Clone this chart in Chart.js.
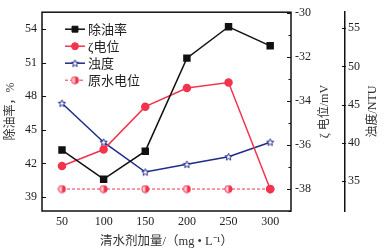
<!DOCTYPE html>
<html>
<head>
<meta charset="utf-8">
<script src="https://cdn.jsdelivr.net/npm/chart.js@4.4.0/dist/chart.umd.min.js"></script>
<style>
  html, body { margin: 0; padding: 0; background: #fff; }
</style>
</head>
<body>
<canvas id="chart" width="391" height="251"></canvas>
<script>
var doses = [50, 100, 150, 200, 250, 300];
var oilRemoval = [43.2, 40.6, 43.1, 51.4, 54.2, 52.5];
var zetaPotential = [-36.95, -36.2, -34.25, -33.4, -33.15, -38.0];
var turbidity = [45.2, 40.1, 36.2, 37.2, 38.2, 40.1];
var rawZeta = [-38, -38, -38, -38, -38, -38];

var xTicks = [50, 100, 150, 200, 250, 300];
var oilTicks = [39, 42, 45, 48, 51, 54];
var zetaTicks = [-38, -36, -34, -32, -30];
var zetaMinor = [-39, -37, -35, -33, -31];
var ntuTicks = [35, 40, 45, 50, 55];

var FONT = "'Liberation Serif', 'Noto Sans CJK SC', serif";
var BLACK = '#111';
var RED = '#f2344f';
var BLUE = '#1f2a8a';

// small marker images
function starMarker() {
    var c = document.createElement('canvas');
    c.width = 9; c.height = 9;
    var g = c.getContext('2d');
    g.beginPath();
    for (var i = 0; i < 10; i++) {
        var r = i % 2 === 0 ? 3.8 : 1.6;
        var a = -Math.PI / 2 + i * Math.PI / 5;
        var px = 4.5 + r * Math.cos(a), py = 4.8 + r * Math.sin(a);
        if (i === 0) g.moveTo(px, py); else g.lineTo(px, py);
    }
    g.closePath();
    g.fillStyle = '#fff';
    g.fill();
    g.strokeStyle = BLUE;
    g.lineWidth = 1;
    g.stroke();
    return c;
}
function halfCircle() {
    var c = document.createElement('canvas');
    c.width = 9; c.height = 9;
    var g = c.getContext('2d');
    g.beginPath(); g.arc(4.5, 4.5, 3.6, 0, Math.PI * 2);
    g.fillStyle = '#fbd0d6'; g.fill();
    g.beginPath(); g.arc(4.5, 4.5, 3.6, -Math.PI / 2, Math.PI / 2);
    g.fillStyle = RED; g.fill();
    g.beginPath(); g.arc(4.5, 4.5, 3.6, 0, Math.PI * 2);
    g.strokeStyle = RED; g.lineWidth = 1; g.stroke();
    return c;
}
var starImg = starMarker();
var halfImg = halfCircle();

function fixTicks(list) {
    return function (scale) {
        scale.ticks = list.map(function (v) { return { value: v }; });
    };
}
function fixWidth(w) {
    return function (scale) { scale.width = w; };
}

var framePlugin = {
    id: 'frame',
    afterDraw: function (chart) {
        var ctx = chart.ctx;
        var a = chart.chartArea;
        var y = chart.scales.y, y2 = chart.scales.y2, y3 = chart.scales.y3;
        ctx.save();
        ctx.strokeStyle = BLACK;
        ctx.lineWidth = 1.5;
        ctx.strokeRect(a.left, a.top, a.right - a.left, a.bottom - a.top);

        // inward ticks
        ctx.lineWidth = 1;
        ctx.beginPath();
        oilTicks.forEach(function (v) {
            var p = Math.round(y.getPixelForValue(v)) + 0.5;
            ctx.moveTo(a.left, p); ctx.lineTo(a.left + 4, p);
        });
        zetaTicks.forEach(function (v) {
            var p = Math.round(y2.getPixelForValue(v)) + 0.5;
            ctx.moveTo(a.right, p); ctx.lineTo(a.right - 4, p);
        });
        zetaMinor.forEach(function (v) {
            var p = Math.round(y2.getPixelForValue(v)) + 0.5;
            ctx.moveTo(a.right, p); ctx.lineTo(a.right - 2.5, p);
        });
        ntuTicks.forEach(function (v) {
            var p = Math.round(y3.getPixelForValue(v)) + 0.5;
            ctx.moveTo(y3.left - 3, p); ctx.lineTo(y3.left + 1, p);
        });
        ctx.stroke();

        // right-hand axis titles, read bottom to top
        ctx.fillStyle = '#333';
        ctx.font = '12px ' + FONT;
        ctx.textAlign = 'center';
        ctx.textBaseline = 'middle';
        var cy = (a.top + a.bottom) / 2;
        [[325, 'ζ 电位/mV'], [373, '浊度/NTU']].forEach(function (t) {
            ctx.save();
            ctx.translate(t[0], cy);
            ctx.rotate(-Math.PI / 2);
            ctx.fillText(t[1], 0, 0);
            ctx.restore();
        });

        // legend with line + marker
        ctx.textAlign = 'left';
        ctx.font = '13px ' + FONT;
        chart.data.datasets.forEach(function (ds, i) {
            var ly = a.top + 17 + i * 17;
            var lx = a.left + 23;
            ctx.save();
            ctx.strokeStyle = ds.borderColor;
            ctx.lineWidth = ds.borderWidth;
            ctx.setLineDash(ds.borderDash || []);
            ctx.beginPath();
            ctx.moveTo(lx, ly); ctx.lineTo(lx + 20, ly);
            ctx.stroke();
            ctx.restore();
            ctx.fillStyle = ds.pointBackgroundColor || ds.borderColor;
            ctx.strokeStyle = ds.borderColor;
            Chart.helpers.drawPoint(ctx, {
                pointStyle: ds.pointStyle,
                radius: ds.pointRadius,
                borderWidth: 1,
                rotation: 0
            }, lx + 10, ly);
            ctx.fillStyle = '#222';
            ctx.fillText(ds.label, lx + 23, ly + 1);
        });
        ctx.restore();
    }
};

function pts(values) {
    return values.map(function (v, i) { return { x: doses[i], y: v }; });
}

Chart.defaults.font.family = FONT;
Chart.defaults.font.size = 12;
Chart.defaults.color = '#222';

new Chart(document.getElementById('chart').getContext('2d'), {
    type: 'line',
    data: {
        datasets: [{
            label: '除油率',
            data: pts(oilRemoval),
            yAxisID: 'y',
            borderColor: BLACK,
            backgroundColor: BLACK,
            borderWidth: 1.5,
            pointStyle: 'rect',
            pointRadius: 4.2,
            pointBackgroundColor: BLACK,
            pointBorderColor: BLACK
        }, {
            label: 'ζ电位',
            data: pts(zetaPotential),
            yAxisID: 'y2',
            borderColor: RED,
            backgroundColor: RED,
            borderWidth: 1.5,
            pointStyle: 'circle',
            pointRadius: 3.5,
            pointBackgroundColor: RED,
            pointBorderColor: RED
        }, {
            label: '浊度',
            data: pts(turbidity),
            yAxisID: 'y3',
            borderColor: BLUE,
            backgroundColor: BLUE,
            borderWidth: 1.5,
            pointStyle: starImg,
            pointRadius: 4
        }, {
            label: '原水电位',
            data: pts(rawZeta),
            yAxisID: 'y2',
            borderColor: RED,
            backgroundColor: RED,
            borderWidth: 1,
            borderDash: [3, 2],
            pointStyle: halfImg,
            pointRadius: 4
        }]
    },
    options: {
        responsive: false,
        animation: false,
        layout: { padding: { top: 11, right: 0, bottom: 0, left: 0 } },
        plugins: {
            legend: { display: false },
            tooltip: { enabled: false }
        },
        scales: {
            x: {
                type: 'linear',
                min: 26,
                max: 325,
                afterBuildTicks: fixTicks(xTicks),
                afterFit: function (s) { s.height = 40; },
                grid: { display: false, drawTicks: false },
                border: { display: false },
                ticks: { padding: 4, font: { size: 12 } },
                title: {
                    display: true,
                    text: '清水剂加量/（mg • L⁻¹）',
                    color: '#333',
                    font: { size: 12.5 },
                    padding: { top: 0, bottom: 2 }
                }
            },
            y: {
                position: 'left',
                min: 37.76,
                max: 55.5,
                afterBuildTicks: fixTicks(oilTicks),
                afterFit: fixWidth(42),
                grid: { display: false, drawTicks: false },
                border: { display: false },
                ticks: { padding: 5, font: { size: 12 } },
                title: {
                    display: true,
                    text: '除油率，%',
                    color: '#333',
                    font: { size: 12 },
                    padding: { top: 4, bottom: 0 }
                }
            },
            y2: {
                position: 'right',
                min: -39,
                max: -29.95,
                afterBuildTicks: fixTicks(zetaTicks),
                afterFit: fixWidth(54),
                grid: { display: false, drawTicks: false },
                border: { display: false },
                ticks: { padding: 4, font: { size: 12 } }
            },
            y3: {
                position: 'right',
                min: 31.1,
                max: 57.1,
                afterBuildTicks: fixTicks(ntuTicks),
                afterFit: fixWidth(46),
                grid: { display: false, drawTicks: false },
                border: { display: true, color: BLACK, width: 1.5 },
                ticks: { padding: 3, font: { size: 12 } }
            }
        }
    },
    plugins: [framePlugin]
});
</script>
</body>
</html>
